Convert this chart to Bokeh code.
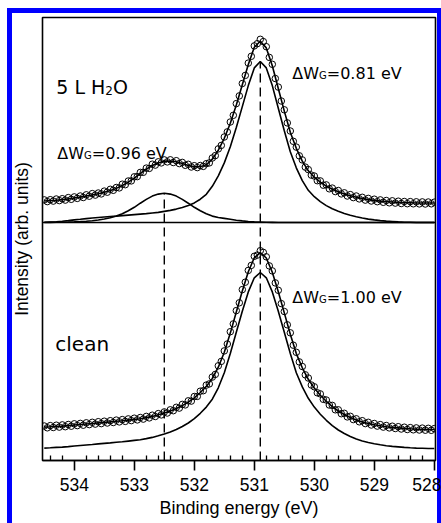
from bokeh.plotting import figure
from bokeh.models import Range1d, FixedTicker, Span
from bokeh.core.properties import value
from bokeh.embed import file_html
from bokeh.resources import INLINE

# ---------------- data (y in arbitrary units) ----------------
fit_energy = [round(534.5 - 0.1 * i, 2) for i in range(66)]      # eV, fit sampling grid
data_energy = [round(534.5 - 0.05 * i, 2) for i in range(131)]   # eV, measurement grid

x_major_ticks = [534, 533, 532, 531, 530, 529, 528]
x_minor_ticks = [534.4, 534.2, 533.8, 533.6, 533.4, 533.2, 532.8, 532.6, 532.4, 532.2,
                 531.8, 531.6, 531.4, 531.2, 530.8, 530.6, 530.4, 530.2, 529.8, 529.6,
                 529.4, 529.2, 528.8, 528.6, 528.4, 528.2]

peak_energies = [532.5, 530.9]

# 5 L H2O spectrum
top_data = [260.6, 258.9, 260.8, 259.4, 261.5, 259.9, 261.8, 260.4, 262.9, 261.2,
            263.6, 262.1, 264.5, 263.0, 265.7, 264.3, 266.9, 265.4, 267.5, 266.6,
            269.4, 268.3, 271.2, 270.2, 273.0, 272.6, 276.3, 275.8, 279.5, 279.6,
            283.7, 283.9, 288.1, 288.2, 292.4, 292.1, 296.3, 295.4, 298.7, 297.6,
            300.6, 298.6, 300.7, 298.0, 299.8, 296.9, 298.1, 295.2, 296.2, 293.5,
            294.8, 292.9, 295.0, 294.1, 296.8, 297.6, 302.5, 304.9, 311.6, 315.1,
            323.5, 328.6, 338.5, 345.2, 356.9, 364.6, 377.0, 385.1, 397.4, 404.2,
            414.6, 416.8, 421.2, 418.9, 413.8, 403.1, 396.2, 382.0, 373.4, 359.5,
            350.7, 337.6, 329.5, 319.2, 313.4, 304.7, 300.6, 293.4, 290.9, 285.4,
            284.5, 279.8, 279.6, 275.3, 275.6, 271.7, 272.4, 268.9, 270.0, 266.6,
            267.7, 264.5, 265.9, 262.9, 264.5, 261.6, 263.2, 260.4, 262.1, 259.5,
            261.3, 258.8, 260.6, 258.2, 260.0, 257.7, 259.7, 257.4, 259.3, 257.0,
            259.0, 256.8, 258.9, 256.7, 258.7, 256.6, 258.6, 256.5, 258.5, 256.7,
            258.3]
top_fit = [259.5, 259.9, 260.3, 260.9, 261.6, 262.5, 263.4, 264.5, 265.6, 266.8,
           268.3, 270.0, 272.1, 275.0, 278.4, 282.4, 287.0, 291.3, 295.1, 297.6,
           299.4, 299.5, 298.7, 297.0, 295.0, 293.6, 293.8, 295.7, 301.3, 310.3,
           322.2, 337.3, 355.6, 375.7, 396.0, 413.2, 419.3, 412.6, 394.7, 372.0,
           349.4, 328.3, 312.2, 299.4, 289.7, 283.3, 278.4, 274.4, 271.2, 268.8,
           266.5, 264.7, 263.3, 262.0, 260.9, 260.1, 259.4, 258.9, 258.5, 258.1,
           257.8, 257.7, 257.5, 257.5, 257.5, 257.5]
top_main_component = [238.2, 238.5, 238.8, 239.3, 239.9, 240.6, 241.2, 241.9, 242.5, 243.0,
                      243.5, 244.0, 244.4, 244.9, 245.4, 245.9, 246.4, 246.9, 247.5, 248.1,
                      249.1, 250.1, 251.4, 253.0, 254.9, 257.6, 261.3, 266.2, 274.2, 284.7,
                      297.6, 313.7, 333.0, 353.9, 374.9, 392.6, 399.0, 392.6, 374.9, 352.3,
                      329.8, 308.8, 292.7, 279.9, 270.2, 263.8, 258.9, 254.9, 251.7, 249.3,
                      247.0, 245.2, 243.8, 242.5, 241.4, 240.6, 239.9, 239.4, 239.0, 238.6,
                      238.3, 238.2, 238.0, 238.0, 238.0, 238.0]
top_shoulder_component = [238.0, 238.1, 238.2, 238.3, 238.4, 238.6, 238.9, 239.3, 239.8, 240.5,
                          241.5, 242.7, 244.4, 246.8, 249.7, 253.2, 257.3, 261.1, 264.4, 266.4,
                          267.3, 266.4, 264.4, 261.1, 257.3, 253.2, 249.7, 246.8, 244.4, 243.0,
                          242.1, 241.2, 240.3, 239.6, 239.0, 238.6, 238.4, 238.2, 238.1, 238.0,
                          238.0, 238.0, 238.0, 238.0, 238.0, 238.0, 238.0, 238.0, 238.0, 238.0,
                          238.0, 238.0, 238.0, 238.0, 238.0, 238.0, 238.0, 238.0, 238.0, 238.0,
                          238.0, 238.0, 238.0, 238.0, 238.0, 238.0]
top_background = 238.0

# clean spectrum
bottom_data = [34.5, 32.7, 34.9, 33.0, 35.3, 33.4, 35.6, 33.8, 36.0, 34.3,
               36.7, 34.9, 37.1, 35.3, 37.7, 35.9, 38.2, 36.4, 38.8, 36.9,
               39.3, 37.5, 39.8, 38.0, 40.4, 38.6, 40.9, 39.1, 41.6, 39.9,
               42.3, 40.6, 43.0, 41.4, 44.1, 42.6, 45.3, 44.0, 46.9, 45.6,
               48.6, 47.5, 50.7, 49.8, 53.2, 52.4, 56.1, 55.6, 59.7, 59.4,
               64.0, 64.1, 69.3, 69.8, 75.4, 76.6, 83.4, 86.1, 94.7, 99.1,
               109.6, 116.5, 128.8, 136.6, 149.9, 157.7, 170.9, 178.3, 190.1, 195.1,
               204.2, 205.4, 209.8, 208.1, 203.7, 194.6, 189.6, 177.6, 170.2, 156.9,
               149.0, 135.7, 127.7, 115.3, 108.2, 98.6, 94.0, 85.7, 82.5, 75.5,
               73.7, 67.7, 66.6, 61.2, 60.5, 55.5, 55.1, 50.7, 50.7, 46.8,
               47.2, 43.6, 44.2, 40.9, 41.7, 38.7, 39.8, 36.9, 38.2, 35.5,
               37.0, 34.4, 35.9, 33.4, 35.0, 32.6, 34.3, 32.0, 33.8, 31.5,
               33.3, 31.0, 32.9, 30.7, 32.6, 30.5, 32.4, 30.3, 32.2, 30.2,
               31.9]
bottom_fit = [33.4, 33.7, 34.1, 34.4, 34.9, 35.5, 36.0, 36.5, 37.0, 37.6,
              38.1, 38.6, 39.2, 39.7, 40.4, 41.1, 41.8, 42.9, 44.1, 45.7,
              47.4, 49.5, 52.0, 54.9, 58.4, 62.7, 68.0, 74.1, 82.0, 93.3,
              108.2, 127.4, 148.5, 169.5, 188.7, 202.7, 207.9, 202.5, 188.2, 168.8,
              147.6, 126.3, 106.9, 92.7, 81.2, 72.4, 65.3, 59.2, 53.9, 49.5,
              46.0, 43.0, 40.5, 38.6, 37.0, 35.8, 34.7, 33.8, 33.1, 32.6,
              32.1, 31.7, 31.4, 31.2, 31.0, 31.0]
bottom_component = [12.4, 12.7, 13.1, 13.4, 13.9, 14.5, 15.0, 15.5, 16.0, 16.6,
                    17.1, 17.6, 18.2, 18.7, 19.4, 20.1, 20.8, 21.9, 23.1, 24.7,
                    26.4, 28.5, 31.0, 34.0, 37.5, 41.9, 47.2, 53.4, 61.3, 72.7,
                    87.7, 107.0, 128.2, 149.3, 168.6, 182.7, 188.0, 182.7, 168.6, 149.3,
                    128.2, 107.0, 87.7, 73.6, 62.2, 53.4, 46.3, 40.2, 34.9, 30.5,
                    27.0, 24.0, 21.5, 19.6, 18.0, 16.8, 15.7, 14.8, 14.1, 13.6,
                    13.1, 12.7, 12.4, 12.2, 12.0, 12.0]

width_labels = ["=0.81 eV", "=0.96 eV", "=1.00 eV"]
spectrum_labels = ["5 L H", "2", "O", "clean"]
x_title = "Binding energy (eV)"
y_title = "Intensity (arb. units)"

# ---------------- figure ----------------
blue_frame_css = ("linear-gradient(#0000ff,#0000ff) 7px 8px / 5px 700px no-repeat, "
                  "linear-gradient(#0000ff,#0000ff) 7px 8px / 600px 5px no-repeat, "
                  "linear-gradient(#0000ff,#0000ff) 437px 8px / 6px 700px no-repeat, "
                  "#ffffff")

p = figure(width=441, height=523, output_backend="svg", toolbar_location=None,
           x_range=Range1d(534.53, 527.98), y_range=Range1d(0, 443),
           min_border_left=42, min_border_right=6, min_border_top=17, min_border_bottom=63,
           background_fill_color="white", border_fill_color="white", border_fill_alpha=0.0)
p.styles = {"background": blue_frame_css}
p.grid.visible = False
p.outline_line_color = "black"
p.outline_line_width = 1.6
p.outline_line_alpha = 1.0

xa = p.xaxis[0]
xa.ticker = FixedTicker(ticks=x_major_ticks, minor_ticks=x_minor_ticks)
xa.axis_line_width = 1.6
xa.major_tick_in = 0
xa.major_tick_out = 10
xa.minor_tick_in = 5
xa.minor_tick_out = 0
xa.major_tick_line_width = 1.6
xa.minor_tick_line_width = 1.3
xa.major_label_standoff = 7
xa.major_label_text_font = "Liberation Sans"
xa.major_label_text_font_size = "17.5px"
xa.major_label_text_color = "black"
xa.axis_label = x_title
xa.axis_label_text_font = "Liberation Sans"
xa.axis_label_text_font_size = "18px"
xa.axis_label_text_font_style = "normal"
xa.axis_label_text_color = "black"
xa.axis_label_standoff = 4

ya = p.yaxis[0]
ya.ticker = FixedTicker(ticks=[])
ya.major_label_text_font_size = "0px"
ya.major_label_standoff = 0
ya.major_tick_in = 0
ya.major_tick_out = 0
ya.minor_tick_in = 0
ya.minor_tick_out = 0
ya.axis_line_color = None
ya.axis_label = y_title
ya.axis_label_text_font = "Liberation Sans"
ya.axis_label_text_font_size = "17.5px"
ya.axis_label_text_font_style = "normal"
ya.axis_label_text_color = "black"
ya.axis_label_standoff = 11

LW = 1.6
# dashed peak markers
p.segment(x0=peak_energies, y0=[0, 0], x1=peak_energies,
          y1=[max(top_shoulder_component), max(top_main_component)],
          line_color="black", line_width=1.4, line_dash="9 5")

# background line of upper spectrum
p.add_layout(Span(location=top_background, dimension="width", line_color="black", line_width=LW))

for comp in (top_main_component, top_shoulder_component, bottom_component):
    p.line(fit_energy, comp, line_color="black", line_width=LW)
p.line(fit_energy, top_fit, line_color="black", line_width=LW)
p.line(fit_energy, bottom_fit, line_color="black", line_width=LW)

for ys in (top_data, bottom_data):
    p.scatter(data_energy, ys, marker="circle", size=6.5, fill_color=None,
              line_color="black", line_width=1.0)

# ---------------- annotations ----------------
def add_text(x, y, txt, size, dx=0.0, dy=0.0):
    p.text(x=[x], y=[y], text=[txt], text_font=value("DejaVu Sans"),
           text_font_size=value(size), x_offset=dx, y_offset=dy,
           text_align="left", text_baseline="alphabetic", text_color="black")

def add_width_label(x, y, txt):
    add_text(x, y, "\u0394W", "16px")
    add_text(x, y, "G", "10px", dx=26.8, dy=2)
    add_text(x, y, txt, "16px", dx=34.5)

add_width_label(530.367, 386.7, width_labels[0])
add_width_label(534.283, 306.7, width_labels[1])
add_width_label(530.367, 163.0, width_labels[2])

add_text(534.3, 373.3, spectrum_labels[0], "19px")
add_text(534.3, 373.3, spectrum_labels[1], "12px", dx=49.0, dy=3)
add_text(534.3, 373.3, spectrum_labels[2], "19px", dx=56.6)
add_text(534.317, 116.7, spectrum_labels[3], "20px")

open("out.html", "w").write(file_html(p, INLINE))
